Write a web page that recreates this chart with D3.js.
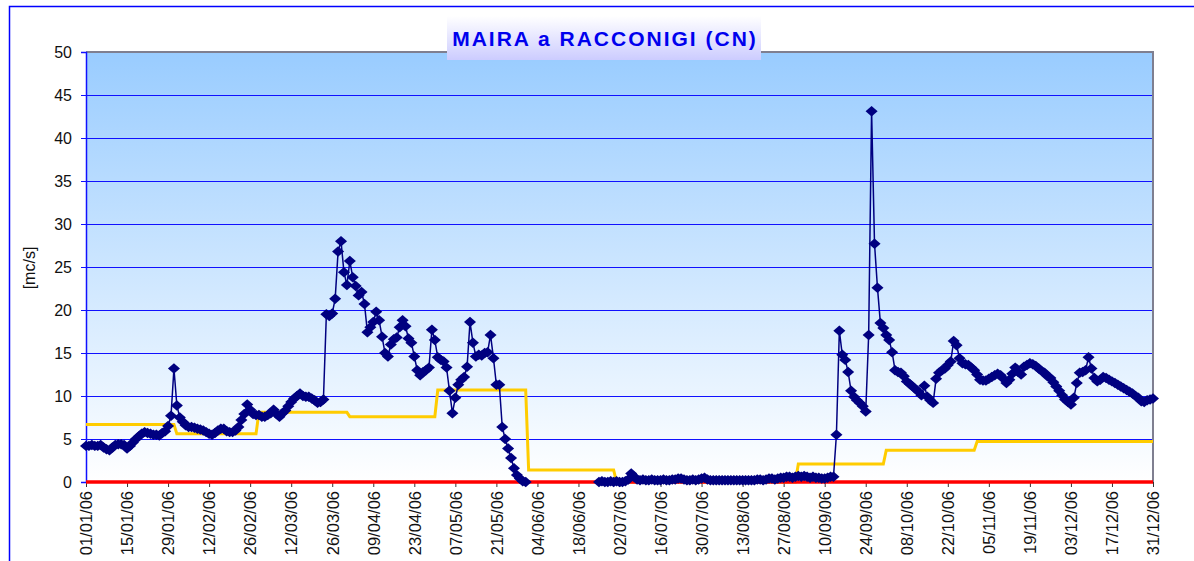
<!DOCTYPE html>
<html>
<head>
<meta charset="utf-8">
<script src="https://cdn.jsdelivr.net/npm/d3@7"></script>
<style>
  body { margin: 0; background: #fff; overflow: hidden; }
  svg { display: block; font-family: Arial, 'Liberation Sans', sans-serif; }
</style>
</head>
<body>
<div class="chart"></div>
<script>
// daily flow [mc/s], one array per month (null = no data)
const jan = [4.2, 4.2, 4.3, 4.2, 4.2, 4.3, 4.0, 3.8, 3.7, 4.0, 4.3, 4.4, 4.4, 4.3, 3.9, 4.2, 4.6, 5.0, 5.3, 5.6,
  5.8, 5.7, 5.6, 5.5, 5.5, 5.4, 5.7, 5.9, 6.5, 7.7, 13.2];
const feb = [8.9, 7.5, 7.0, 6.6, 6.4, 6.4, 6.3, 6.2, 6.1, 6.0, 5.8, 5.6, 5.5, 5.7, 6.0, 6.2, 6.2, 5.9, 5.8, 5.8,
  6.0, 6.4, 7.2, 7.9, 9.0, 8.4, 7.9, 7.8];
const mar = [7.8, 7.6, 7.6, 7.8, 8.0, 8.4, 7.9, 7.6, 8.0, 8.3, 8.8, 9.3, 9.7, 10.0, 10.3, 10.0, 9.9, 9.9, 9.7, 9.5,
  9.2, 9.3, 9.6, 19.5, 19.3, 19.6, 21.3, 26.8, 28.0, 24.4, 22.9];
const apr = [25.7, 23.8, 22.8, 21.7, 22.1, 20.7, 17.4, 18.0, 18.6, 19.8, 18.8, 16.9, 15.0, 14.6, 16.0, 16.6, 16.8,
  18.0, 18.8, 18.1, 16.7, 16.2, 14.6, 13.0, 12.4, 12.8, 13.0, 13.3, 17.7, 16.5];
const may = [14.5, 14.2, 14.0, 13.3, 10.6, 8.0, 9.8, 11.3, 11.9, 12.2, 13.4, 18.6, 16.2, 14.6, 14.8, 14.7, 15.0,
  15.1, 17.1, 14.4, 11.3, 11.3, 6.4, 5.0, 3.9, 2.8, 1.6, 0.8, 0.4, 0.1, 0.0];
const jun = [null, null, null, null, null, null, null, null, null, null, null, null, null, null, null, null, null,
  null, null, null, null, null, null, null, 0.0, 0.1, 0.0, 0.0, 0.1, 0.0];
const jul = [0.1, 0.0, 0.0, 0.1, 0.3, 1.0, 0.6, 0.3, 0.2, 0.3, 0.2, 0.2, 0.3, 0.2, 0.2, 0.2, 0.3, 0.2, 0.2, 0.3,
  0.3, 0.4, 0.4, 0.3, 0.2, 0.2, 0.3, 0.2, 0.3, 0.4, 0.5];
const aug = [0.3, 0.2, 0.2, 0.2, 0.2, 0.2, 0.2, 0.2, 0.2, 0.2, 0.2, 0.2, 0.2, 0.2, 0.2, 0.2, 0.2, 0.3, 0.3, 0.2,
  0.3, 0.4, 0.4, 0.3, 0.4, 0.5, 0.5, 0.6, 0.6, 0.5, 0.6];
const sep = [0.7, 0.6, 0.7, 0.6, 0.5, 0.6, 0.5, 0.5, 0.4, 0.4, 0.5, 0.6, 0.6, 5.5, 17.6, 14.8, 14.2, 12.8, 10.6,
  9.9, 9.5, 9.2, 8.8, 8.2, 17.1, 43.1, 27.7, 22.6, 18.5, 17.9];
const oct = [17.1, 16.5, 15.1, 13.0, 12.8, 12.7, 12.3, 11.7, 11.4, 11.1, 10.8, 10.5, 10.1, 11.2, 9.9, 9.5, 9.2,
  12.0, 12.7, 13.0, 13.2, 13.6, 14.0, 16.4, 15.9, 14.4, 13.8, 13.7, 13.6, 13.3, 13.0];
const nov = [12.5, 11.9, 11.8, 11.8, 12.0, 12.2, 12.4, 12.6, 12.4, 12.0, 11.5, 11.9, 12.6, 13.3, 12.8, 12.5, 13.4,
  13.6, 13.8, 13.7, 13.5, 13.2, 12.9, 12.7, 12.3, 12.1, 11.6, 11.1, 10.6, 10.1];
const dec = [9.6, 9.3, 9.0, 9.8, 11.5, 12.7, 12.8, 13.0, 14.5, 13.2, 12.1, 11.7, 11.9, 12.2, 12.1, 11.9, 11.7,
  11.5, 11.3, 11.1, 10.9, 10.7, 10.5, 10.3, 10.0, 9.8, 9.4, 9.3, 9.5, 9.6, 9.7];

// minimum vital flow (DMV) per month
const dmvMonthly = [6.7, 5.6, 8.1, 7.6, 10.7, 1.4, 0, 0, 2.1, 3.7, 4.7, 4.7];
const zeroLevel = 0;

const yTicks = [0, 5, 10, 15, 20, 25, 30, 35, 40, 45, 50];
const xTickLabels = ['01/01/06', '15/01/06', '29/01/06', '12/02/06', '26/02/06', '12/03/06', '26/03/06',
  '09/04/06', '23/04/06', '07/05/06', '21/05/06', '04/06/06', '18/06/06', '02/07/06', '16/07/06', '30/07/06',
  '13/08/06', '27/08/06', '10/09/06', '24/09/06', '08/10/06', '22/10/06', '05/11/06', '19/11/06', '03/12/06',
  '17/12/06', '31/12/06'];

const title = 'MAIRA a RACCONIGI (CN)';
const yTitle = '[mc/s]';

// build daily rows
const months = [jan, feb, mar, apr, may, jun, jul, aug, sep, oct, nov, dec];
const rows = [];
months.forEach((vals, m) => {
  vals.forEach((v, i) => {
    rows.push({ date: new Date(Date.UTC(2006, m, i + 1)), value: v, dmv: dmvMonthly[m] });
  });
});

const W = 1194;
const H = 561;
const plotL = 86, plotT = 52, plotR = 1153, plotB = 482;

const svg = d3.select('.chart')
  .append('svg')
  .attr('width', W)
  .attr('height', H);

const defs = svg.append('defs');
const bgGrad = defs.append('linearGradient')
  .attr('id', 'plotbg').attr('x1', 0).attr('y1', 0).attr('x2', 0).attr('y2', 1);
bgGrad.append('stop').attr('offset', '0%').attr('stop-color', '#99ccff');
bgGrad.append('stop').attr('offset', '100%').attr('stop-color', '#ffffff');

const titleGrad = defs.append('linearGradient')
  .attr('id', 'titlebg').attr('x1', 0).attr('y1', 0).attr('x2', 0).attr('y2', 1);
titleGrad.append('stop').attr('offset', '0%').attr('stop-color', '#ffffff');
titleGrad.append('stop').attr('offset', '100%').attr('stop-color', '#ccccff');

// outer chart border
svg.append('rect')
  .attr('x', 9.5).attr('y', 6.5)
  .attr('width', 1300).attr('height', 700)
  .attr('fill', '#fff')
  .attr('stroke', '#0000ff')
  .attr('stroke-width', 1.5);

const parse = d3.utcParse('%d/%m/%y');

const x = d3.scaleUtc()
  .domain([rows[0].date, rows[rows.length - 1].date])
  .range([plotL, plotR]);

const y = d3.scaleLinear()
  .domain([0, 50])
  .range([plotB, plotT]);

// plot area
svg.append('rect')
  .attr('x', plotL).attr('y', plotT)
  .attr('width', plotR - plotL).attr('height', plotB - plotT)
  .attr('fill', 'url(#plotbg)');

// gridlines
svg.append('g')
  .selectAll('line')
  .data(yTicks.filter(t => t > 0 && t < 50))
  .enter()
  .append('line')
  .attr('x1', plotL).attr('x2', plotR)
  .attr('y1', d => Math.round(y(d)) + 0.5)
  .attr('y2', d => Math.round(y(d)) + 0.5)
  .attr('stroke', '#1010ff')
  .attr('stroke-width', 1);

// plot border top / right
svg.append('path')
  .attr('d', `M${plotL},${plotT}H${plotR}V${plotB}`)
  .attr('fill', 'none')
  .attr('stroke', '#7f7f90')
  .attr('stroke-width', 2);

// y axis
const yAxis = svg.append('g')
  .attr('transform', `translate(${plotL},0)`)
  .call(d3.axisLeft(y).tickValues(yTicks).tickSize(5).tickPadding(9));
yAxis.select('.domain').attr('stroke', '#1010ff').attr('stroke-width', 1.5);
yAxis.selectAll('line').attr('stroke', '#1010ff');
yAxis.selectAll('text')
  .attr('font-size', 16)
  .attr('fill', '#111')
  .attr('font-family', 'Arial, Liberation Sans, sans-serif');

// x axis
const xAxis = svg.append('g')
  .attr('transform', `translate(0,${plotB})`)
  .call(d3.axisBottom(x)
    .tickValues(xTickLabels.map(parse))
    .tickFormat(d3.utcFormat('%d/%m/%y'))
    .tickSize(5));
xAxis.select('.domain').attr('stroke', '#1010ff');
xAxis.selectAll('line').attr('stroke', '#333');
xAxis.selectAll('text')
  .attr('font-size', 16.5)
  .attr('fill', '#111')
  .attr('font-family', 'Arial, Liberation Sans, sans-serif')
  .attr('transform', 'rotate(-90)')
  .attr('text-anchor', 'end')
  .attr('x', -9)
  .attr('y', 0)
  .attr('dy', '0.35em');

// y title
svg.append('text')
  .attr('transform', `translate(35,${268}) rotate(-90)`)
  .attr('text-anchor', 'middle')
  .attr('font-size', 16)
  .attr('fill', '#111')
  .text(yTitle);

// DMV step line
svg.append('path')
  .datum(rows)
  .attr('d', d3.line().x(d => x(d.date)).y(d => y(d.dmv)))
  .attr('fill', 'none')
  .attr('stroke', '#ffcc00')
  .attr('stroke-width', 3);

// zero line
svg.append('path')
  .datum(rows)
  .attr('d', d3.line().x(d => x(d.date)).y(() => y(zeroLevel)))
  .attr('fill', 'none')
  .attr('stroke', '#ff0000')
  .attr('stroke-width', 3.5);

// flow line + markers
svg.append('path')
  .datum(rows)
  .attr('d', d3.line()
    .defined(d => d.value !== null)
    .x(d => x(d.date))
    .y(d => y(d.value)))
  .attr('fill', 'none')
  .attr('stroke', '#000080')
  .attr('stroke-width', 1.5);

const diamond = {
  draw(ctx, size) {
    const r = Math.sqrt(size) / 2;
    ctx.moveTo(0, -r);
    ctx.lineTo(r * 1.15, 0);
    ctx.lineTo(0, r);
    ctx.lineTo(-r * 1.15, 0);
    ctx.closePath();
  }
};

svg.append('g')
  .selectAll('path')
  .data(rows.filter(d => d.value !== null))
  .enter()
  .append('path')
  .attr('transform', d => `translate(${x(d.date)},${y(d.value)})`)
  .attr('d', d3.symbol().type(diamond).size(110))
  .attr('fill', '#000080');

// title box
const tg = svg.append('g');
tg.append('rect')
  .attr('x', 447).attr('y', 16)
  .attr('width', 314).attr('height', 44)
  .attr('fill', 'url(#titlebg)');
tg.append('text')
  .attr('x', 605).attr('y', 46)
  .attr('text-anchor', 'middle')
  .attr('font-size', 21)
  .attr('font-weight', 'bold')
  .attr('letter-spacing', 2)
  .attr('fill', '#0000ee')
  .text(title);
</script>
</body>
</html>
